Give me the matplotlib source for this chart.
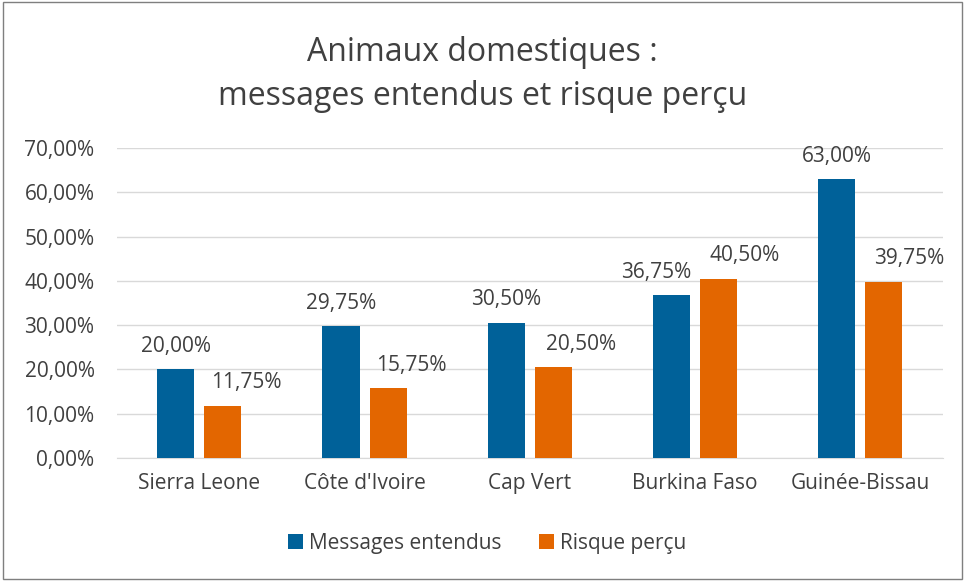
import matplotlib.pyplot as plt
import numpy as np

countries = ["Sierra Leone", "Côte d'Ivoire", "Cap Vert", "Burkina Faso", "Guinée-Bissau"]
messages = [20.00, 29.75, 30.50, 36.75, 63.00]
risque = [11.75, 15.75, 20.50, 40.50, 39.75]
y_ticks = [0, 10, 20, 30, 40, 50, 60, 70]

blue = "#006199"
orange = "#E36600"
text_col = "#404040"

# horizontal nudges of the data labels (pixels), as in the original
shift_blue = [0, 0, 0, -15, 0]
shift_orange = [23, 23, 28, 26, 25]

plt.rcParams['font.family'] = ['Open Sans', 'DejaVu Sans']

fig = plt.figure(figsize=(9.65, 5.81), dpi=100)
ax = fig.add_axes([0.121, 0.212, 0.856, 0.533])

x = np.arange(len(countries))
w = 0.225
gap = 0.06
b1 = ax.bar(x - (w + gap) / 2, messages, w, color=blue, label="Messages entendus", zorder=3)
b2 = ax.bar(x + (w + gap) / 2, risque, w, color=orange, label="Risque perçu", zorder=3)

def fmt(v):
    return f"{v:.2f}%".replace(".", ",")

for bars, vals, shifts in [(b1, messages, shift_blue), (b2, risque, shift_orange)]:
    for r, v, dx in zip(bars, vals, shifts):
        ax.annotate(fmt(v), (r.get_x() + r.get_width() / 2, v), xytext=(dx * 0.72, 9),
                    textcoords='offset points', ha='center', va='bottom',
                    fontsize=15, color=text_col)

ax.set_ylim(0, 70)
ax.set_xlim(-0.5, len(countries) - 0.5)
ax.set_yticks(y_ticks)
ax.set_yticklabels([fmt(t) for t in y_ticks], fontsize=15, color=text_col)
ax.set_xticks(x)
ax.set_xticklabels(countries, fontsize=15, color=text_col)
ax.tick_params(axis='y', length=0, pad=16)
ax.tick_params(axis='x', length=0, pad=11)
ax.grid(axis='y', color='#d9d9d9', linewidth=1, zorder=0)
for s in ['top', 'right', 'left']:
    ax.spines[s].set_visible(False)
ax.spines['bottom'].set_color('#d9d9d9')

fig.text(0.5, 0.872, "Animaux domestiques :\nmessages entendus et risque perçu", ha='center', va='center',
         fontsize=23, color=text_col, linespacing=1.45)

fig.legend(handles=[b1, b2], loc='center', bbox_to_anchor=(0.505, 0.065), ncol=2, frameon=False,
           fontsize=15, labelcolor=text_col, handlelength=0.7, handleheight=0.7, handletextpad=0.3,
           columnspacing=1.8)

fig.patches.append(plt.Rectangle((0.003, 0.003), 0.994, 0.994, transform=fig.transFigure,
                                 fill=False, edgecolor='#7f7f7f', linewidth=1))

fig.savefig("out.png", dpi=100)
